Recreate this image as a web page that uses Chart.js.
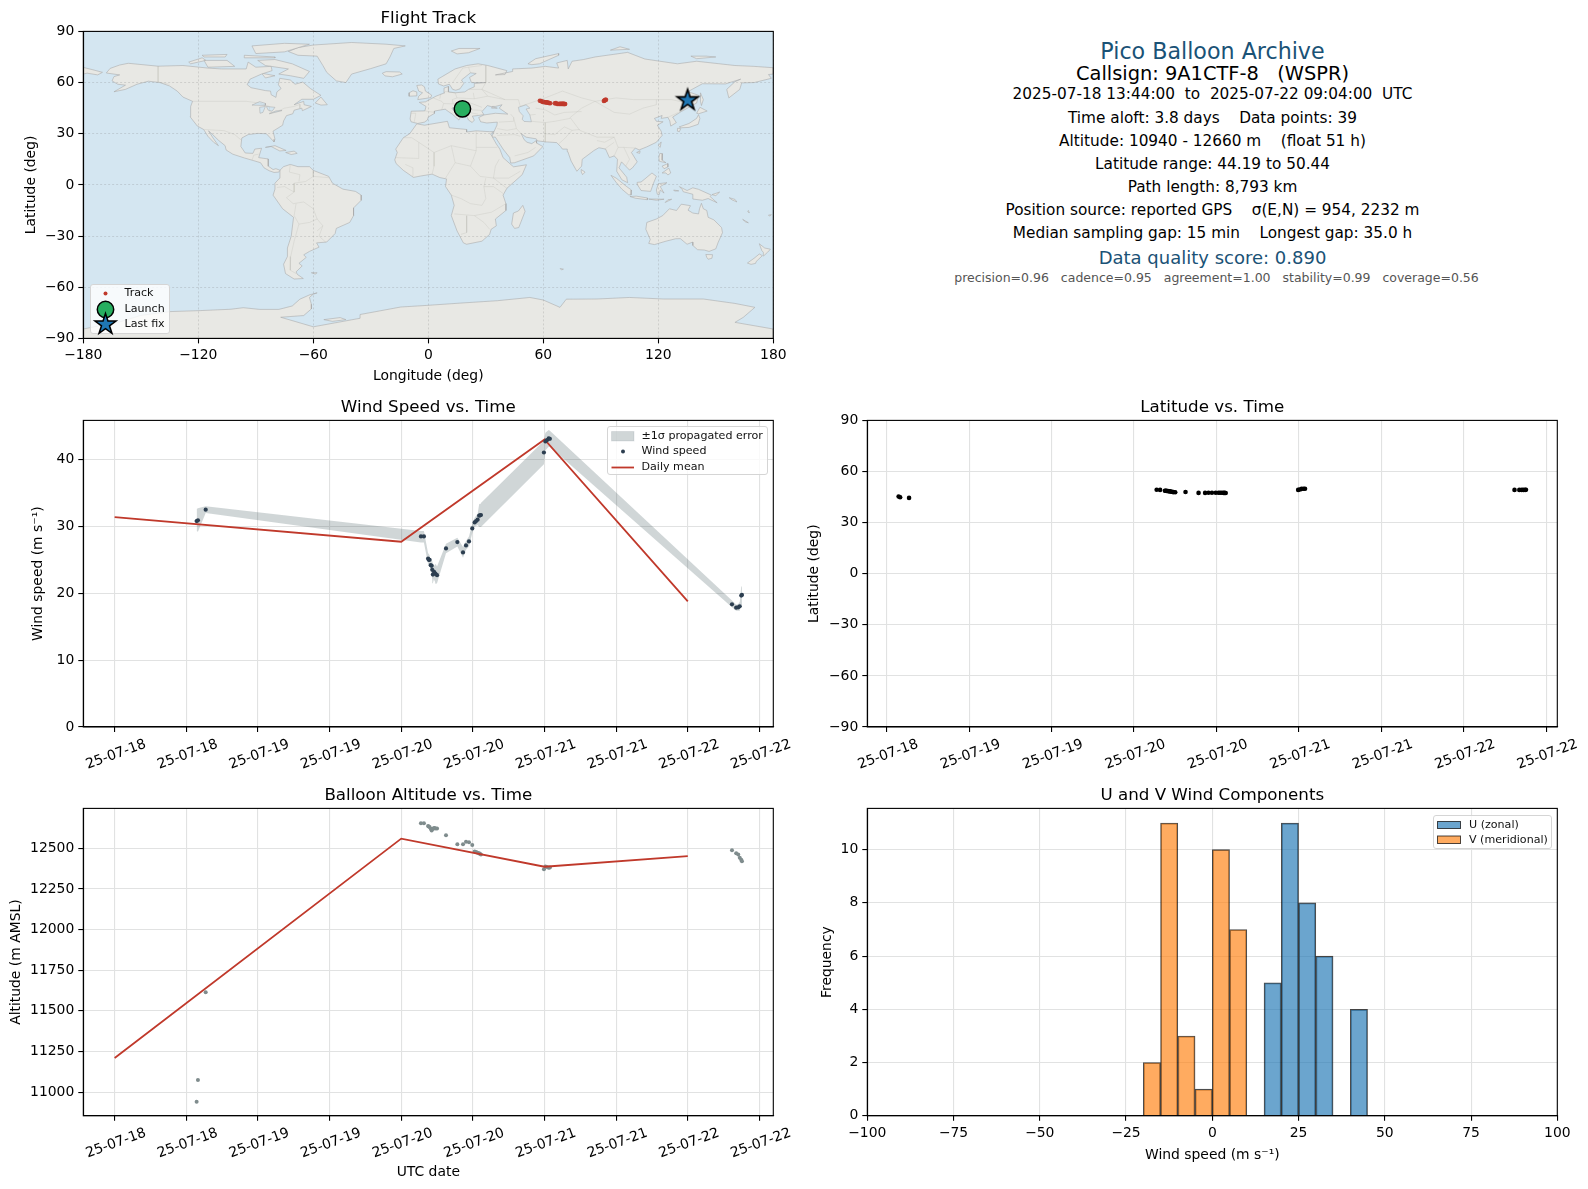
<!DOCTYPE html>
<html>
<head>
<meta charset="utf-8">
<title>Pico Balloon Archive</title>
<script src="https://cdn.jsdelivr.net/npm/chart.js@4/dist/chart.umd.js"></script>
<style>
    html, body { margin: 0; padding: 0; background: #fff; width: 1588px; height: 1189px; overflow: hidden; font-family: "DejaVu Sans", sans-serif; }
    canvas { position: absolute; }
    .info { position: absolute; left: 867px; width: 691px; text-align: center; white-space: pre; transform: translateY(-50%); }
    .legend { position: absolute; background: rgba(255,255,255,0.8); border: 1px solid #d5d5d5; border-radius: 3px; box-sizing: border-box; }
    .legend span { position: absolute; font-size: 11.1px; line-height: 14px; white-space: pre; color: #111; }
    .legend svg { position: absolute; left: 0; top: 0; overflow: visible; }
</style>
</head>
<body>
<script>
/* Flight data, hours after 2025-07-18 00:00 UTC */
const hours = [13.73, 13.95, 15.25, 51.3, 51.8, 52.5, 52.6, 52.75, 52.95, 53.1, 53.2, 53.3, 53.5, 53.6, 53.75, 54.0, 55.5, 57.4, 58.35, 58.85, 59.35, 59.9, 60.3, 60.55, 60.8, 61.05, 61.2, 61.35, 71.9, 72.15, 72.4, 72.7, 72.9, 103.4, 104.1, 104.45, 104.7, 104.95, 105.07];
const windSpeed = [30.8, 30.9, 32.5, 28.5, 28.5, 25.2, 25.0, 25.0, 24.2, 24.1, 23.5, 22.8, 23.2, 23.0, 22.9, 22.7, 26.7, 27.65, 26.1, 27.15, 27.75, 29.7, 30.6, 30.8, 31.0, 31.6, 31.65, 31.7, 41.05, 42.7, 42.9, 43.15, 43.1, 18.35, 17.85, 17.9, 18.05, 19.65, 19.75];
const windLow = [29.3, 29.2, 32.0, 27.6, 27.6, 24.4, 24.2, 24.2, 23.3, 22.8, 22.0, 21.5, 22.2, 21.9, 21.4, 21.5, 26.0, 27.0, 25.3, 26.5, 27.0, 29.0, 29.9, 30.1, 30.2, 29.9, 29.9, 29.9, 39.3, 41.4, 41.6, 41.9, 41.9, 17.9, 17.4, 17.4, 17.4, 18.2, 18.3];
const windHigh = [32.6, 32.7, 33.0, 29.3, 29.3, 26.0, 25.9, 25.7, 25.0, 25.0, 24.8, 24.4, 24.2, 24.1, 24.4, 24.0, 27.4, 28.3, 26.9, 27.8, 28.5, 30.4, 31.3, 31.6, 31.9, 33.3, 33.4, 33.5, 42.8, 44.0, 44.2, 44.4, 44.3, 18.9, 18.3, 18.4, 18.7, 21.0, 21.4];
const altitude = [10940, 11075, 11615, 12654, 12654, 12637, 12634, 12631, 12620, 12610, 12619, 12621, 12625, 12624, 12623, 12623, 12580, 12525, 12525, 12541, 12537, 12520, 12480, 12478, 12473, 12470, 12466, 12463, 12371, 12389, 12385, 12381, 12383, 12488, 12470, 12463, 12443, 12430, 12420];
const latitude = [45.3, 44.9, 44.5, 49.3, 49.2, 48.7, 48.7, 48.6, 48.5, 48.4, 48.4, 48.3, 48.1, 48.0, 47.9, 47.8, 48.0, 47.45, 47.45, 47.5, 47.5, 47.5, 47.5, 47.5, 47.5, 47.45, 47.45, 47.4, 49.2, 49.4, 49.8, 49.9, 49.9, 49.2, 49.2, 49.2, 49.2, 49.2, 49.3];
const longitude = [17.8, 18.0, 19.5, 58.2, 58.8, 59.5, 59.9, 60.4, 60.8, 61.3, 61.7, 62.2, 62.6, 63.1, 63.6, 66.0, 66.6, 67.2, 67.8, 68.4, 68.9, 69.4, 69.9, 70.3, 70.6, 70.9, 71.2, 71.4, 91.6, 91.9, 92.2, 92.5, 92.7, 134.6, 134.9, 135.1, 135.3, 135.4, 135.5];

/* Daily means */
const dailyHours = [0, 48, 72, 96];
const dailyWind = [31.4, 27.7, 43.0, 18.8];
const dailyAltitude = [11210, 12560, 12387, 12452];

/* Launch and last fix */
const launchPoint = [17.8, 44.6];
const lastFixPoint = [135.3, 49.6];

/* Histogram bins, 5 m/s wide */
const binWidth = 5;
const uBinStarts = [15, 20, 25, 30, 40];
const uCounts = [5, 11, 8, 6, 4];
const vBinStarts = [-20, -15, -10, -5, 0, 5];
const vCounts = [2, 11, 3, 1, 10, 7];

/* Tick values and labels */
const lonTicks = [-180, -120, -60, 0, 60, 120, 180];
const latTicks = [-90, -60, -30, 0, 30, 60, 90];
const windTicks = [0, 10, 20, 30, 40];
const altitudeTicks = [11000, 11250, 11500, 11750, 12000, 12250, 12500];
const freqTicks = [0, 2, 4, 6, 8, 10];
const histTicks = [-100, -75, -50, -25, 0, 25, 50, 75, 100];
const timeTicks = [0, 12, 24, 36, 48, 60, 72, 84, 96, 108];
const timeLabels = ["25-07-18", "25-07-18", "25-07-19", "25-07-19", "25-07-20", "25-07-20", "25-07-21", "25-07-21", "25-07-22", "25-07-22"];
const latTimeTicks = [12, 24, 36, 48, 60, 72, 84, 96, 108];
const latTimeLabels = ["25-07-18", "25-07-19", "25-07-19", "25-07-20", "25-07-20", "25-07-21", "25-07-21", "25-07-22", "25-07-22"];

/* Info panel lines: text, y, size, colour, x shift */
const infoLines = [
    ["Pico Balloon Archive", 50.5, 22.2, "#1a5276", 0],
    ["Callsign: 9A1CTF-8   (WSPR)", 72.5, 19.4, "#000", 0],
    ["2025-07-18 13:44:00  to  2025-07-22 09:04:00  UTC", 94, 15.3, "#000", 0],
    ["Time aloft: 3.8 days    Data points: 39", 117.5, 15.3, "#000", 0],
    ["Altitude: 10940 - 12660 m    (float 51 h)", 140.5, 15.3, "#000", 0],
    ["Latitude range: 44.19 to 50.44", 163.5, 15.3, "#000", 0],
    ["Path length: 8,793 km", 186.5, 15.3, "#000", 0],
    ["Position source: reported GPS    \u03c3(E,N) = 954, 2232 m", 209.5, 15.3, "#000", 0],
    ["Median sampling gap: 15 min    Longest gap: 35.0 h", 232.5, 15.3, "#000", 0],
    ["Data quality score: 0.890", 256.5, 18, "#1a5276", 0],
    ["precision=0.96   cadence=0.95   agreement=1.00   stability=0.99   coverage=0.56", 277, 12.5, "#555", 4],
];

/* Coastlines as [lon, lat] */
const northAmerica = [[-168,65.6],[-166,68.3],[-161,70.3],[-156.5,71.3],[-141,69.6],[-128,70],[-115,68.5],[-108,68],[-95,68],[-94,72],[-90,69],[-82,69.5],[-81.5,67],[-87,65],[-93,62],[-94.5,58.8],[-92.5,57],[-85,55.3],[-82.3,55],[-82,52.9],[-79.5,51.3],[-79,54.5],[-76.8,56.5],[-78.2,58.7],[-77.5,62.5],[-72,61.5],[-69.5,59],[-65.5,60.3],[-61.5,56.5],[-56,52.5],[-60,50.2],[-66,50.2],[-70,47],[-65,49],[-64.8,47],[-61,46],[-65.7,43.5],[-66,45],[-70,43.8],[-70.7,41.7],[-74,40.6],[-75.5,37.5],[-76,35],[-81,31.5],[-80,26.8],[-80.5,25.2],[-82.8,28],[-84.5,30],[-89,30.2],[-94,29.5],[-97.3,27.5],[-97.8,22.5],[-95.5,18.7],[-91.5,18.5],[-90.5,21],[-87,21.5],[-88.5,16],[-83.5,15.2],[-83.5,11],[-81,9],[-79.5,9.5],[-77.4,8.6],[-78,7.5],[-80.5,7.3],[-83,8.3],[-85.7,10],[-87.5,13],[-92,14.5],[-96,15.8],[-102,18],[-105.5,20.5],[-106,23],[-109.3,26],[-112.5,29.5],[-114.7,31.7],[-112,27],[-109.5,23],[-112,25],[-115,28.5],[-117.2,32.5],[-120.5,34.5],[-124.3,40],[-124,46],[-123,49],[-128,51.5],[-131,55],[-135,58],[-140,60],[-146,60.8],[-152,59],[-158,56],[-164,54.6],[-158,58.5],[-162,59],[-165,61],[-164,63.5],[-161,64.5],[-168,65.6]];
const baffin = [[-80,73.5],[-71,71],[-62,66.5],[-65,62.5],[-72,64],[-78,65],[-73,68],[-85,70],[-89,73],[-80,73.5]];
const victoriaIsland = [[-117,73],[-105,73],[-101,69.5],[-115,69],[-117,73]];
const banksIsland = [[-125,72],[-118,74.5],[-116,73],[-124,71],[-125,72]];
const ellesmere = [[-90,77],[-75,78],[-62,82.5],[-75,83],[-92,81.5],[-90,77]];
const devonIsland = [[-96,76],[-80,75],[-80,74.5],[-96,74.5],[-96,76]];
const melvilleIsland = [[-118,76],[-105,76.5],[-106,75],[-117,75],[-118,76]];
const southampton = [[-87,65.5],[-80,64],[-85,62.7],[-87,65.5]];
const newfoundland = [[-59,48],[-56,51.5],[-52.7,47],[-56,46.8],[-59,48]];
const cuba = [[-85,22],[-80,23],[-74.2,20.2],[-77.5,19.9],[-82,22.5],[-85,22]];
const hispaniola = [[-74.4,19],[-70,19.8],[-68.4,18.5],[-71.5,17.8],[-74.4,19]];
const greenland = [[-73,78.2],[-68,80.5],[-60,82],[-40,83.5],[-22,82.5],[-12,81.5],[-18,80],[-20,75],[-22,71],[-30,68.2],[-40,65],[-43,60],[-48,61],[-53,66],[-55,70],[-58,75.5],[-68,76],[-73,78.2]];
const iceland = [[-24,65.5],[-22,66.4],[-15,66.2],[-13.6,65],[-18.7,63.4],[-22.6,63.9],[-24,65.5]];
const southAmerica = [[-77.4,8.6],[-75.5,10.7],[-72,12],[-68,10.7],[-62,10.7],[-60,8.5],[-52,5],[-50,1],[-44.5,-2.5],[-38,-3.8],[-35,-6],[-35,-9],[-39,-13.5],[-39,-18],[-41,-22],[-48,-25.5],[-48.6,-28.5],[-53,-33.5],[-58.3,-34],[-57,-36.5],[-62,-39],[-65,-41],[-63.7,-42.5],[-67.5,-46],[-65.8,-47.5],[-69,-51],[-68.3,-52.5],[-65.2,-54.9],[-70,-55.2],[-74.5,-52],[-75.5,-46.5],[-73.5,-42],[-73.5,-37],[-71.5,-30],[-70.3,-19],[-76,-14],[-81,-6],[-80,-2.5],[-80,1],[-77.5,4],[-77.4,8.6]];
const falklands = [[-61,-51.5],[-58,-51.5],[-59,-52.3],[-61,-51.5]];
const africa = [[-6,35.8],[-2,35],[10,37.3],[11,33.5],[20,32.5],[20,31],[25,31.7],[32,31.2],[34.2,31.3],[32.5,29.9],[35.5,24],[37.3,21],[39,16],[43,12],[44.5,10.6],[51.2,11.8],[49,6],[41,-2],[39,-6],[40.5,-11],[40.5,-15],[35,-20],[35.5,-24],[32.8,-26],[32,-29],[28,-33],[20,-34.8],[18.3,-34],[15,-27],[12,-18],[13.5,-12],[12,-6],[9,-1],[9.5,3.5],[6,4.3],[2,6.3],[-4,5.2],[-7.7,4.4],[-13,8.5],[-16.8,12.5],[-17.5,14.7],[-16.2,19],[-17,21],[-13,27.7],[-9.7,30],[-6,35.8]];
const madagascar = [[49.3,-12],[50.5,-15.5],[47.2,-25],[45,-25.5],[43.5,-23],[44.4,-16.5],[47,-15.3],[49.3,-12]];
const eurasia = [[-9,37],[-9.5,38.7],[-8.9,43.2],[-1.8,43.4],[-1.2,46],[-4.7,48.4],[-1.5,48.7],[1.5,50.5],[4,52],[8.5,54],[8.2,56.8],[10.6,57.7],[10.5,54.5],[14,54],[19,54.5],[21,56],[24,57.5],[24,59.5],[30,60],[22.5,60],[21.5,63],[25,65.3],[22,65.7],[17.3,61.5],[18.5,59.5],[16.5,56.3],[14.3,55.5],[12.7,56],[11,59],[8,58],[5.3,59.2],[5,62],[14,68],[20,70],[26,71],[31,70],[41,67],[40,64.7],[35,64.5],[44,66.5],[44,68],[54,68.5],[61,69.5],[68,68.5],[67,71.5],[72.5,73],[73,68],[75,72.5],[81,73.5],[87,75],[104,77.7],[113,73.8],[130,71],[140,72.5],[160,70],[170,69.5],[180,68.7],[180,65],[177.5,64.7],[179,62.5],[170,60],[163.5,59.8],[162.5,56],[156.8,51],[155.7,56],[160,60.5],[163,62],[155,59.2],[143,59.3],[135.5,54.7],[141,52.5],[140,48],[132,43],[127.5,39.8],[129.4,36.5],[126.5,34.5],[126,37.5],[125,39.6],[121.5,39],[122,40.7],[118,39],[119,37.3],[122.5,37],[119.5,35],[121.5,31.5],[122,29],[119,25],[114,22.3],[110,20.5],[108,21.6],[106,19],[109,13.5],[106.5,10],[105,8.7],[103,11],[100.8,13.5],[99.5,10],[103.5,4.5],[104,1.3],[101,3],[98.3,8],[98.7,15],[97,17],[94.5,16],[92.5,21],[89,21.8],[86.5,20.2],[80.3,15],[80,11],[77.5,8],[74.5,14],[72.8,19.5],[72.5,21],[70,21],[69,22.5],[67,24.8],[61.5,25.2],[57,25.8],[56.3,27],[51,28],[48.5,30],[50,26.5],[51.5,25],[54,24.2],[56.4,26],[56.5,24.5],[59.8,22.5],[55,17],[45,13],[43,12.8],[42.5,16],[39,21],[35,28],[33,28],[34.3,31.3],[35.8,35],[36,36.8],[30.5,36.3],[27.3,37],[26.3,39.5],[29,41],[35,42],[41.5,41.5],[37,45],[38.5,47],[35,46],[33.5,46],[33,45],[36,45],[30.8,46.5],[28,43],[29,41.2],[26,40.7],[23,40.3],[24,38],[22.9,36.6],[21,38],[19.5,41.5],[19.3,42.1],[13.7,45.6],[12.3,45],[14,42.5],[18.5,40],[16.7,39.5],[16,38],[12.5,41.5],[10.5,43],[8.8,44.4],[3.2,43.3],[3.2,41.9],[0,39.8],[-0.5,38],[-2,36.8],[-5.5,36],[-9,37]];
const chukotkaWrap = [[-180,68.9],[-175,67.5],[-170,66],[-172.5,64.5],[-178,65.5],[-180,65],[-180,68.9]];
const britain = [[-5.5,50],[1.4,51.2],[1.7,52.7],[-1.5,55],[-2,57.5],[-3.5,58.6],[-6,58.3],[-5,55],[-3,54],[-5,52],[-5.5,50]];
const ireland = [[-10,52],[-6,52.2],[-6,54.5],[-8,55.2],[-10,54],[-10,52]];
const svalbard = [[12,78.5],[16,80],[27,80],[21,77.5],[15,76.8],[12,78.5]];
const novayaZemlya = [[52,71],[56,74],[68,77],[68,76],[58,71],[54,70.5],[52,71]];
const severnaya = [[95,79],[105,79.5],[100,81],[95,79]];
const newSiberian = [[137,75.5],[145,75.5],[150,75],[140,74],[137,75.5]];
const sakhalin = [[142,54],[143.5,50],[142.5,46.5],[142,49],[142,54]];
const hokkaido = [[140,42],[141.7,45.5],[145.5,43.3],[141,41.7],[140,42]];
const honshu = [[130.9,34],[136,36],[140,39],[141,41.2],[141.7,39],[140.8,35.5],[136,33.7],[132,33.5],[130.9,34]];
const kyushu = [[130,33.2],[131.7,33],[131,31.2],[130,31.5],[130,33.2]];
const taiwan = [[120,23],[121.5,25.2],[121,22],[120,23]];
const hainan = [[108.7,19],[110.5,20],[110.3,18.5],[108.7,19]];
const sriLanka = [[79.8,9],[81.8,7.5],[80.5,6],[79.8,7.5],[79.8,9]];
const luzon = [[120.3,16],[120.8,18.5],[122.2,18.3],[122,14.5],[124,13],[120.6,13.8],[120.3,16]];
const visayas = [[122,11],[125,12.5],[125,10.5],[123,9.5],[122,11]];
const mindanao = [[122,7],[125.5,9.8],[126.5,7],[125,5.8],[124,7],[122,7]];
const borneo = [[109,1.5],[111,1.7],[113,3.5],[116.7,7],[119,5],[117.5,1],[116,-3.8],[111,-3.3],[109.2,0],[109,1.5]];
const sumatra = [[95.3,5.6],[98,4],[103.5,-1],[106,-3],[105.8,-5.9],[104.5,-5.8],[101,-2.5],[98,1.5],[95.3,5.6]];
const java = [[105.2,-6.8],[108.5,-6.6],[114.5,-7.7],[114.3,-8.7],[108,-7.8],[105.2,-6.8]];
const sulawesi = [[119.5,-5.5],[119,-3],[120,0.7],[124.5,1.3],[121,-1],[123,-4.8],[121,-3],[120.5,-5.7],[119.5,-5.5]];
const newGuinea = [[131,-1],[135,-3.3],[138,-1.7],[141,-2.6],[147.7,-6],[147,-6.8],[150.7,-10.5],[146,-8],[143,-9],[138,-8.3],[138,-5.5],[133,-4],[132.5,-2.7],[131,-1]];
const sundaIslands = [[115,-8.3],[119,-8.3],[123,-8.4],[119,-9],[115,-8.3]];
const timor = [[123.6,-10.3],[127,-8.4],[125,-8.7],[123.6,-10.3]];
const seram = [[128,-3],[130.7,-3.5],[128.5,-3.6],[128,-3]];
const newBritain = [[148,-5.7],[152,-4.2],[150,-6.3],[148,-5.7]];
const solomons = [[157,-7.5],[160,-8.5],[161,-10],[158.5,-8.8],[157,-7.5]];
const vanuatu = [[167,-15],[167.5,-16.5],[166.7,-15.6],[167,-15]];
const newCaledonia = [[164,-20.2],[167,-22.2],[165.5,-21.7],[164,-20.2]];
const fiji = [[177.5,-17.7],[179,-17.5],[178,-18.3],[177.5,-17.7]];
const newZealandNorth = [[172.7,-34.5],[175.5,-37],[178.5,-37.7],[177,-39.5],[175,-41.6],[174.8,-39.5],[174,-38.5],[172.7,-34.5]];
const newZealandSouth = [[172.7,-40.5],[174.3,-41.5],[171,-45],[170.8,-46],[168.4,-46.6],[166.5,-45.8],[170,-43],[172.7,-40.5]];
const australia = [[114,-22],[113.5,-26],[115.8,-32],[115,-34.3],[118,-35],[124,-33],[129,-31.6],[131.5,-31.5],[135,-34.8],[138,-33.5],[138,-35.5],[140.5,-38],[144,-38.2],[146.5,-39],[150,-37.5],[151.2,-33.8],[153.5,-28],[153,-25],[149,-20.5],[146,-19],[145.3,-15],[143.5,-14],[142.5,-10.8],[141.5,-14],[141,-17],[138,-16.5],[135.5,-14.8],[136.8,-12.2],[132,-11.3],[129.5,-15],[125.8,-14],[122.3,-18],[119,-20],[114,-22]];
const tasmania = [[144.8,-40.8],[148.3,-40.9],[148,-43],[146,-43.6],[145.3,-42.5],[144.8,-40.8]];
const kerguelen = [[68.8,-49],[70.5,-49.4],[69.5,-49.9],[68.8,-49]];
const antarctica = [[-180,-90],[-180,-84.5],[-160,-80],[-150,-76.5],[-135,-74.3],[-119,-73.7],[-103,-72.9],[-96.5,-72],[-88,-73],[-78,-73],[-71,-71],[-67,-67],[-62,-64.5],[-58,-63.3],[-60,-64],[-62,-66],[-61,-70],[-61,-72.7],[-65,-76.6],[-77,-77.6],[-60,-83.2],[-35.6,-78.2],[-35.6,-76],[-14.4,-71.6],[0,-70.6],[18,-69.2],[36,-67.9],[53,-66],[60,-67.5],[68.7,-71.8],[72,-67],[88,-66.9],[105,-66],[122.6,-66.9],[143.5,-66.9],[160,-69.5],[170.4,-71.8],[164.4,-77.6],[160,-80.6],[180,-84.5],[180,-90],[-180,-90]];
const berkner = [[-54.5,-79],[-46,-77.8],[-43,-79],[-50,-80],[-54.5,-79]];

const landShapes = [northAmerica, baffin, victoriaIsland, banksIsland, ellesmere, devonIsland, melvilleIsland, southampton, newfoundland, cuba, hispaniola, greenland, iceland, southAmerica, falklands, africa, madagascar, eurasia, chukotkaWrap, britain, ireland, svalbard, novayaZemlya, severnaya, newSiberian, sakhalin, hokkaido, honshu, kyushu, taiwan, hainan, sriLanka, luzon, visayas, mindanao, borneo, sumatra, java, sulawesi, newGuinea, sundaIslands, timor, seram, newBritain, solomons, vanuatu, newCaledonia, fiji, newZealandNorth, newZealandSouth, australia, tasmania, kerguelen, antarctica, berkner];

/* Inland water */
const caspian = [[47,45.5],[51,47],[53,45],[51,44.5],[53,41],[53.8,37],[50,37.2],[49,38.5],[49.5,40.5],[47.5,43],[47,45.5]];
const lakeSuperior = [[-92,46.8],[-88,48.8],[-85,47.8],[-85,46.6],[-92,46.8]];
const lakeMichigan = [[-87.8,42],[-88,45.5],[-85,46],[-86.3,42.5],[-87.8,42]];
const lakeHuron = [[-84.5,46],[-80,45.5],[-81.5,43.2],[-83.5,43.8],[-84.5,46]];
const lakeErieOntario = [[-83,41.7],[-79,42.8],[-76.3,43.6],[-79.5,43.4],[-83,41.7]];
const waterShapes = [caspian, lakeSuperior, lakeMichigan, lakeHuron, lakeErieOntario];

/* Country borders, faint lines */
const borderLines = [
    [[-123,49],[-95,49],[-88,48],[-83,46],[-82.5,42],[-79,43],[-75,45],[-70,46],[-67,47.2],[-67,45]],
    [[-141,69.6],[-141,60.3],[-135,59]],
    [[-117,32.5],[-106.5,31.8],[-101,29.5],[-97.3,26]],
    [[-92,14.5],[-91,17.5],[-88.5,18]],
    [[-51.6,4.2],[-60,5],[-64,2],[-70,1],[-70,-4.2],[-74,-7.5],[-70.5,-11],[-65,-10],[-60,-14],[-58,-20],[-55,-24],[-57,-30],[-53.4,-33.7]],
    [[-70,-18],[-67.5,-23],[-70,-33],[-71.8,-42],[-72,-50],[-69,-52]],
    [[-72,11.8],[-72.5,7.5],[-67,6],[-67.5,2]],
    [[-60,8.5],[-60,5]],
    [[-79,-1.5],[-75,-1],[-70,-4.2]],
    [[-70,-18],[-69,-11]],
    [[-67.5,-23],[-62,-22],[-58,-20]],
    [[-58,-27],[-55,-24]],
    [[-13,27.7],[-8.7,27.7],[-5,25],[3,19],[12,23],[25,20],[25,31.7]],
    [[25,22],[36,22]],
    [[-17,16],[-5,15.5],[-5,25]],
    [[-8,4.5],[-8,10],[-12,12]],
    [[3,19],[3,11],[2,6.3]],
    [[12,23],[14,13],[9,4]],
    [[25,20],[22,11],[27,5],[34,4],[35,11],[37,15]],
    [[14,13],[22,11]],
    [[12,-6],[17,-8],[22,-11],[28,-12],[30,-8],[29,-1],[30,4]],
    [[34,4],[41,-2]],
    [[34,4],[42,4],[48,8]],
    [[29,-1],[34,-1],[39,-5]],
    [[13.5,-17],[24,-18],[33,-16],[40.5,-11]],
    [[20,-18],[20,-28],[17,-29]],
    [[24,-18],[29,-22],[32,-26]],
    [[-1.8,43.4],[3.2,42.5]],
    [[-8.9,42],[-6.5,42],[-7.3,37]],
    [[2.5,51],[7,49],[8,47.7],[7,44]],
    [[6.5,53.5],[6,50.5]],
    [[8.5,54.8],[14,54]],
    [[14,54],[15,51],[12.5,50],[13,47.5],[8,47.7]],
    [[15,51],[24,50.5],[23.5,54]],
    [[13,47.5],[17,48],[22,48],[28,45.5]],
    [[13.7,45.6],[19,46],[22,44],[28,43.7]],
    [[19.5,41.5],[21,42.5],[26,41.5]],
    [[24,50.5],[31,52],[40,50]],
    [[28,56],[31,52]],
    [[21,56],[28,56]],
    [[30,60],[28,56],[40,50],[47,50],[48,46],[61,51],[70,55],[80,51],[87,49],[98,51],[107,50],[119,50],[127,50],[135,48],[131,43]],
    [[30,70],[30,60]],
    [[22,65.7],[21,69]],
    [[12.7,60],[18,68.5],[21,69],[28,70]],
    [[87,49],[80,45],[74,39.5],[79,32],[88,28],[97,28],[99,22],[102,22],[108,21.6]],
    [[87,49],[97,42.5],[105,41.5],[112,45],[119,47],[119,50]],
    [[68,24],[71,27],[75,32],[79,32.5]],
    [[88,26],[92,25],[97,28]],
    [[92,21],[97,25]],
    [[99,22],[97,17]],
    [[102,22],[105,15],[103,11]],
    [[44.5,39.5],[46,33],[48.5,30]],
    [[61,36.5],[61,25]],
    [[61,36.5],[53.9,37.3]],
    [[61,36.5],[66,37.3],[74,39]],
    [[61,30],[66,29.5],[71,34],[75,32]],
    [[56,41.3],[53,41]],
    [[56,45],[61,44],[66,41],[71,42.5],[80,43]],
    [[36,29],[45,29.5],[48,28.5]],
    [[36,33],[41,32],[46,33]],
    [[36.8,36.8],[44.5,37.3],[44.5,39.5],[43,41.5]],
    [[56,22],[52,19],[45,17]],
    [[125,39.6],[130.5,42.5]],
];

/* Axes boxes measured on the page */
const leftAxes = { left: 83.3, right: 773.3 };
const rightAxes = { left: 867.3, right: 1557.3 };
const rowMap = { top: 31.4, bottom: 338.4 };
const rowMid = { top: 420.4, bottom: 727 };
const rowLow = { top: 808.4, bottom: 1115.8 };

/* Shared colours and fonts */
const FONT = '"DejaVu Sans", sans-serif';
const TICK_FONT = { family: FONT, size: 13.9 };
const TITLE_FONT = { family: FONT, size: 16.7, weight: "normal", lineHeight: 1.2 };
const LABEL_FONT = { family: FONT, size: 13.9, lineHeight: 1.2 };
const GRID_COLOR = "#e1e2e2";
const BAND_COLOR = "rgba(50,78,84,0.23)";
Chart.defaults.font.family = FONT;
Chart.defaults.color = "#000";
Chart.defaults.animation = false;

/* Draws the four axis lines and the map background */
const framePlugin = {
    id: "frame",
    beforeDraw(chart, args, opts) {
        if (!opts.background) return;
        const a = chart.chartArea;
        chart.ctx.save();
        chart.ctx.fillStyle = opts.background;
        chart.ctx.fillRect(a.left, a.top, a.width, a.height);
        chart.ctx.restore();
    },
    afterDraw(chart) {
        const a = chart.chartArea;
        chart.ctx.save();
        chart.ctx.strokeStyle = "#000";
        chart.ctx.lineWidth = 1.1;
        chart.ctx.strokeRect(a.left, a.top, a.width, a.height);
        chart.ctx.restore();
    },
};
Chart.register(framePlugin);

function pairs(xs, ys) {
    return xs.map((x, i) => ({ x: x, y: ys[i] }));
}

function shapePoints(shape) {
    return shape.map((p) => ({ x: p[0], y: p[1] }));
}

function minusSign(value) {
    return String(value).replace("-", "\u2212");
}

/* Five-pointed star, same proportions in canvas and svg */
function starVertices(cx, cy, R) {
    const out = [];
    for (let i = 0; i < 10; i++) {
        const r = i % 2 === 0 ? R : R * 0.382;
        const ang = -Math.PI / 2 + (i * Math.PI) / 5;
        out.push([cx + r * Math.cos(ang), cy + r * Math.sin(ang)]);
    }
    return out;
}

function starMarker(R) {
    const c = document.createElement("canvas");
    c.width = c.height = Math.ceil(R * 2 + 6);
    const ctx = c.getContext("2d");
    ctx.beginPath();
    starVertices(c.width / 2, c.height / 2, R).forEach((p) => ctx.lineTo(p[0], p[1]));
    ctx.closePath();
    ctx.fillStyle = "#1f77b4";
    ctx.fill();
    ctx.strokeStyle = "#000";
    ctx.lineWidth = 1.6;
    ctx.lineJoin = "miter";
    ctx.stroke();
    return c;
}

/* Builds x or y options with fixed ticks */
function axisOptions(cfg) {
    return {
        type: "linear",
        min: cfg.min,
        max: cfg.max,
        offset: false,
        afterBuildTicks(axis) {
            axis.ticks = cfg.ticks.map((v) => ({ value: v }));
        },
        title: cfg.title
            ? { display: true, text: cfg.title, font: LABEL_FONT, padding: 0 }
            : { display: false },
        grid: Object.assign(
            { color: GRID_COLOR, lineWidth: 1.1, tickColor: "#000", tickWidth: 1.1, tickLength: 5, offset: false, tickBorderDash: [] },
            cfg.grid || {}
        ),
        border: Object.assign({ color: "#000", width: 1.1 }, cfg.border || {}),
        ticks: Object.assign(
            {
                font: TICK_FONT,
                color: "#000",
                padding: 4,
                autoSkip: false,
                maxRotation: 0,
                minRotation: 0,
                callback: cfg.labels ? (v, i) => cfg.labels[i] : (v) => minusSign(v),
            },
            cfg.tickOpts || {}
        ),
    };
}

const ROTATED = { maxRotation: 20, minRotation: 20, labelOffset: 31, padding: 4 };
const MAP_GRID = { color: "rgba(120,120,120,0.33)", lineWidth: 0.7, z: 1 };
const MAP_BORDER = { dash: [2, 2], z: 1 };

/* Makes one canvas on whole pixels and puts the axes at the measured box */
function addChart(box, titleText, config) {
    const TITLE_LINE = 16.7 * 1.2;
    const TITLE_GAP = 3;
    const canvasLeft = Math.floor(box.yTitleX - 8.3);
    const canvasTop = Math.floor(box.top - TITLE_LINE - TITLE_GAP - 1);
    const canvasRight = Math.ceil(box.right + 24);
    const canvasBottom = Math.round(box.xBottom);
    const canvas = document.createElement("canvas");
    canvas.style.left = canvasLeft + "px";
    canvas.style.top = canvasTop + "px";
    canvas.width = canvasRight - canvasLeft;
    canvas.height = canvasBottom - canvasTop;
    canvas.style.width = canvas.width + "px";
    canvas.style.height = canvas.height + "px";
    document.body.appendChild(canvas);

    const scales = config.options.scales;
    scales.x.afterFit = (axis) => { axis.height = canvasBottom - box.bottom; };
    scales.y.afterFit = (axis) => { axis.width = box.left - canvasLeft; };
    config.options.plugins.legend = { display: false };
    config.options.plugins.tooltip = { enabled: false };
    config.options.plugins.title = {
        display: true,
        text: titleText,
        font: TITLE_FONT,
        color: "#000",
        fullSize: false,
        padding: { top: box.top - canvasTop - TITLE_LINE - TITLE_GAP, bottom: TITLE_GAP },
    };
    config.options.responsive = false;
    config.options.animation = false;
    config.options.layout = { padding: { right: canvasRight - box.right, left: 0, top: 0, bottom: 0 } };
    return new Chart(canvas.getContext("2d"), config);
}

/* Legend box drawn as page text */
function addLegend(box, rows) {
    const el = document.createElement("div");
    el.className = "legend";
    el.style.left = box.x + "px";
    el.style.top = box.y + "px";
    el.style.width = box.w + "px";
    el.style.height = box.h + "px";
    rows.forEach((row) => {
        const svgNS = "http://www.w3.org/2000/svg";
        const svg = document.createElementNS(svgNS, "svg");
        svg.setAttribute("width", box.w);
        svg.setAttribute("height", box.h);
        svg.innerHTML = row.marker;
        el.appendChild(svg);
        const label = document.createElement("span");
        label.textContent = row.text;
        label.style.left = box.textX + "px";
        label.style.top = row.y - 7 + "px";
        el.appendChild(label);
    });
    document.body.appendChild(el);
}

/* ---- Flight track map ---- */
const mapDatasets = [];
landShapes.forEach((shape) => {
    mapDatasets.push({
        data: shapePoints(shape),
        showLine: true,
        fill: "shape",
        backgroundColor: "#e8e8e4",
        borderColor: "rgba(165,165,165,0.6)",
        borderWidth: 0.9,
        pointRadius: 0,
        tension: 0,
        order: 30,
    });
});
waterShapes.forEach((shape) => {
    mapDatasets.push({
        data: shapePoints(shape),
        showLine: true,
        fill: "shape",
        backgroundColor: "#d4e6f1",
        borderColor: "rgba(165,165,165,0.6)",
        borderWidth: 0.8,
        pointRadius: 0,
        order: 25,
    });
});
borderLines.forEach((line) => {
    mapDatasets.push({
        data: shapePoints(line),
        showLine: true,
        fill: false,
        borderColor: "rgba(185,185,180,0.35)",
        borderWidth: 0.8,
        pointRadius: 0,
        order: 20,
    });
});
mapDatasets.push({ label: "Track", data: pairs(longitude, latitude), pointRadius: 2.3, backgroundColor: "rgba(192,57,43,0.9)", borderWidth: 0, order: 3 });
mapDatasets.push({ label: "Launch", data: [{ x: launchPoint[0], y: launchPoint[1] }], pointRadius: 8.2, backgroundColor: "#27ae60", borderColor: "#000", borderWidth: 1.5, order: 2 });
mapDatasets.push({ label: "Last fix", data: [{ x: lastFixPoint[0], y: lastFixPoint[1] }], pointStyle: starMarker(11), pointRadius: 12, order: 1 });

addChart({ yTitleX: 31.4, left: leftAxes.left, top: rowMap.top, right: leftAxes.right, bottom: rowMap.bottom, xBottom: 385 }, "Flight Track", {
    type: "scatter",
    data: { datasets: mapDatasets },
    options: {
        plugins: { frame: { background: "#d4e6f1" } },
        scales: {
            x: axisOptions({ min: -180, max: 180, ticks: lonTicks, title: "Longitude (deg)", grid: MAP_GRID, border: MAP_BORDER }),
            y: axisOptions({ min: -90, max: 90, ticks: latTicks, title: "Latitude (deg)", grid: MAP_GRID, border: MAP_BORDER }),
        },
    },
});

addLegend({ x: 89.5, y: 283.5, w: 80, h: 50, textX: 34 }, [
    { text: "Track", y: 8.5, marker: '<circle cx="14.5" cy="8.5" r="2" fill="#c0392b"/>' },
    { text: "Launch", y: 24.5, marker: '<circle cx="14.5" cy="24.5" r="8.2" fill="#27ae60" stroke="#000" stroke-width="1.5"/>' },
    { text: "Last fix", y: 39.5, marker: '<polygon points="' + starVertices(14.5, 39.5, 11).map((p) => p.join(",")).join(" ") + '" fill="#1f77b4" stroke="#000" stroke-width="1.5"/>' },
]);

/* ---- Info panel ---- */
infoLines.forEach((line) => {
    const div = document.createElement("div");
    div.className = "info";
    div.textContent = line[0];
    div.style.top = line[1] + "px";
    div.style.fontSize = line[2] + "px";
    div.style.color = line[3];
    div.style.marginLeft = line[4] + "px";
    document.body.appendChild(div);
});

/* ---- Wind speed vs time ---- */
addChart({ yTitleX: 38.5, left: leftAxes.left, top: rowMid.top, right: leftAxes.right, bottom: rowMid.bottom, xBottom: 790 }, "Wind Speed vs. Time", {
    type: "scatter",
    data: {
        datasets: [
            { label: "Wind speed", data: pairs(hours, windSpeed), pointRadius: 2.1, backgroundColor: "#2c3e50", borderWidth: 0, order: 1 },
            { label: "Daily mean", data: pairs(dailyHours, dailyWind), showLine: true, borderColor: "#c0392b", borderWidth: 1.8, pointRadius: 0, order: 2 },
            { label: "low", data: pairs(hours, windLow), showLine: true, borderWidth: 0, pointRadius: 0, order: 4 },
            { label: "\u00b11\u03c3 propagated error", data: pairs(hours, windHigh), showLine: true, borderWidth: 0, pointRadius: 0, fill: "-1", backgroundColor: BAND_COLOR, order: 3 },
        ],
    },
    options: {
        plugins: {},
        scales: {
            x: axisOptions({ min: -5.25, max: 110.32, ticks: timeTicks, labels: timeLabels, tickOpts: ROTATED }),
            y: axisOptions({ min: 0, max: 45.85, ticks: windTicks, title: "Wind speed (m s\u207b\u00b9)" }),
        },
    },
});

addLegend({ x: 606.5, y: 425.5, w: 161, h: 49.5, textX: 34 }, [
    { text: "\u00b11\u03c3 propagated error", y: 9.5, marker: '<rect x="3.5" y="4.5" width="22.5" height="9.5" fill="' + BAND_COLOR + '" stroke="rgba(44,62,80,0.1)"/>' },
    { text: "Wind speed", y: 24.5, marker: '<circle cx="15" cy="24.5" r="2" fill="#2c3e50"/>' },
    { text: "Daily mean", y: 40.5, marker: '<line x1="3.5" x2="26" y1="40.5" y2="40.5" stroke="#c0392b" stroke-width="1.8"/>' },
]);

/* ---- Latitude vs time ---- */
addChart({ yTitleX: 815, left: rightAxes.left, top: rowMid.top, right: rightAxes.right, bottom: rowMid.bottom, xBottom: 790 }, "Latitude vs. Time", {
    type: "scatter",
    data: { datasets: [{ data: pairs(hours, latitude), pointRadius: 2.3, backgroundColor: "#000", borderWidth: 0 }] },
    options: {
        plugins: {},
        scales: {
            x: axisOptions({ min: 9.17, max: 109.63, ticks: latTimeTicks, labels: latTimeLabels, tickOpts: ROTATED }),
            y: axisOptions({ min: -90, max: 90, ticks: latTicks, title: "Latitude (deg)" }),
        },
    },
});

/* ---- Altitude vs time ---- */
addChart({ yTitleX: 17.2, left: leftAxes.left, top: rowLow.top, right: leftAxes.right, bottom: rowLow.bottom, xBottom: 1181 }, "Balloon Altitude vs. Time", {
    type: "scatter",
    data: {
        datasets: [
            { data: pairs(hours, altitude), pointRadius: 2, backgroundColor: "#7f8c8d", borderWidth: 0, order: 2 },
            { data: pairs(dailyHours, dailyAltitude), showLine: true, borderColor: "#c0392b", borderWidth: 1.8, pointRadius: 0, order: 1 },
        ],
    },
    options: {
        plugins: {},
        scales: {
            x: axisOptions({ min: -5.25, max: 110.32, ticks: timeTicks, labels: timeLabels, title: "UTC date", tickOpts: ROTATED }),
            y: axisOptions({ min: 10854, max: 12746, ticks: altitudeTicks, title: "Altitude (m AMSL)" }),
        },
    },
});

/* ---- U and V histogram ---- */
const barWidthPx = ((rightAxes.right - rightAxes.left) / 200) * binWidth;
function binBars(starts, counts) {
    return starts.map((s, i) => ({ x: s + binWidth / 2, y: counts[i] }));
}

addChart({ yTitleX: 828, left: rightAxes.left, top: rowLow.top, right: rightAxes.right, bottom: rowLow.bottom, xBottom: 1164 }, "U and V Wind Components", {
    type: "bar",
    data: {
        datasets: [
            { label: "U (zonal)", data: binBars(uBinStarts, uCounts), backgroundColor: "rgba(31,119,180,0.66)", borderColor: "rgba(0,0,0,0.7)", borderWidth: 1.1, barThickness: barWidthPx, grouped: false },
            { label: "V (meridional)", data: binBars(vBinStarts, vCounts), backgroundColor: "rgba(255,127,14,0.66)", borderColor: "rgba(0,0,0,0.7)", borderWidth: 1.1, barThickness: barWidthPx, grouped: false },
        ],
    },
    options: {
        plugins: {},
        scales: {
            x: axisOptions({ min: -100, max: 100, ticks: histTicks, title: "Wind speed (m s\u207b\u00b9)" }),
            y: axisOptions({ min: 0, max: 11.55, ticks: freqTicks, title: "Frequency" }),
        },
    },
});

addLegend({ x: 1433, y: 814.5, w: 119, h: 34, textX: 35 }, [
    { text: "U (zonal)", y: 9.5, marker: '<rect x="3.5" y="5.5" width="23" height="7" fill="rgba(31,119,180,0.66)" stroke="rgba(0,0,0,0.7)"/>' },
    { text: "V (meridional)", y: 24.5, marker: '<rect x="3.5" y="20" width="23" height="7.5" fill="rgba(255,127,14,0.66)" stroke="rgba(0,0,0,0.7)"/>' },
]);
</script>
</body>
</html>
